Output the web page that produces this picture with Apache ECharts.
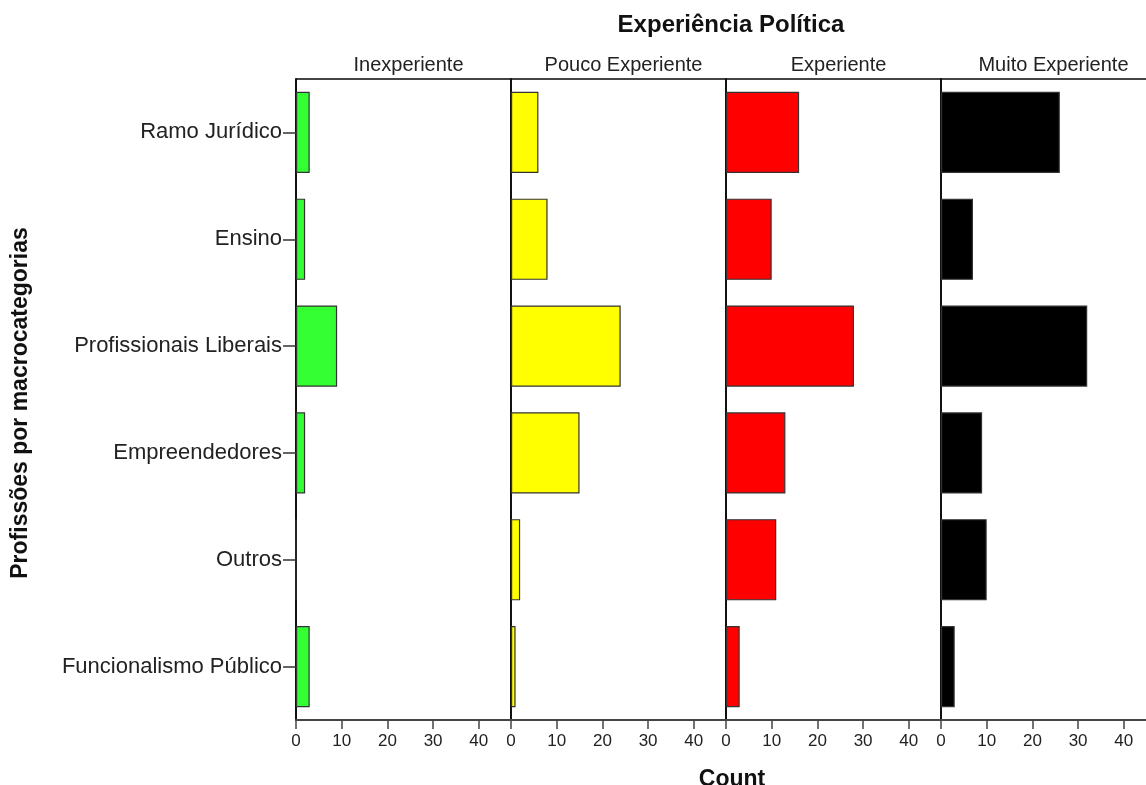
<!DOCTYPE html>
<html><head><meta charset="utf-8">
<script src="https://cdn.jsdelivr.net/npm/echarts@6/dist/echarts.min.js"></script>
<style>html,body{margin:0;padding:0;background:#fff;}#c{width:1146px;height:785px;}</style>
</head><body><div id="c"></div>
<script>
const categories = ['Ramo Jurídico','Ensino','Profissionais Liberais','Empreendedores','Outros','Funcionalismo Público'];
const panels = ['Inexperiente','Pouco Experiente','Experiente','Muito Experiente'];
const inexperiente = [3,2,9,2,0,3];
const poucoExperiente = [6,8,24,15,2,1];
const experiente = [16,10,28,13,11,3];
const muitoExperiente = [26,7,32,9,10,3];
const xTicks = [0,10,20,30,40];
const colors = ['#33ff33','#ffff00','#ff0000','#000000'];
const seriesData = [inexperiente, poucoExperiente, experiente, muitoExperiente];

const font = '"Liberation Sans", Arial, sans-serif';
const lefts = [296, 511, 726, 941];
const widths = [215, 215, 215, 205];
const PX_PER_UNIT = 4.57;
const TOP = 79, H = 641;
const grids = [], xAxes = [], yAxes = [], series = [], titles = [];
panels.forEach((p, i) => {
  grids.push({left: lefts[i], top: TOP, width: widths[i], height: H, containLabel: false});
  xAxes.push({
    type: 'value', gridIndex: i, min: 0, max: widths[i] / PX_PER_UNIT, interval: 10,
    splitLine: {show: false},
    axisLine: {show: true, lineStyle: {color: '#444', width: 2}},
    axisTick: {show: true, length: 9, lineStyle: {color: '#444', width: 1.5}},
    axisLabel: {color: '#222', fontFamily: font, fontSize: 17, margin: 13,
      showMaxLabel: false,
      formatter: v => xTicks.indexOf(v) >= 0 ? String(v) : ''}
  });
  yAxes.push({
    type: 'category', gridIndex: i, data: categories, inverse: true,
    axisLine: {show: true, lineStyle: {color: '#111', width: 2}},
    axisTick: {show: i === 0, alignWithLabel: true, length: 13, lineStyle: {color: '#333', width: 1.5}},
    axisLabel: {show: i === 0, color: '#222', fontFamily: font, fontSize: 22, margin: 14},
    splitLine: {show: false}
  });
  series.push({
    type: 'bar', xAxisIndex: i, yAxisIndex: i, data: seriesData[i],
    barCategoryGap: '24%',
    itemStyle: {color: colors[i], borderColor: '#333', borderWidth: 1.2},
    silent: true
  });
  titles.push({text: p, left: lefts[i] + 107.5, top: 50, textAlign: 'center',
    textStyle: {fontFamily: font, fontSize: 20, fontWeight: 'normal', color: '#222'}});
});
titles.push({text: 'Experiência Política', left: 726, top: 8, textAlign: 'center',
  textStyle: {fontFamily: font, fontSize: 24, fontWeight: 'bold', color: '#111'}});
titles.push({text: 'Count', left: 727, top: 763, textAlign: 'center',
  textStyle: {fontFamily: font, fontSize: 23, fontWeight: 'bold', color: '#111'}});

const chart = echarts.init(document.getElementById('c'), null, {renderer: 'canvas'});
chart.setOption({
  backgroundColor: '#fff',
  animation: false,
  title: titles,
  grid: grids, xAxis: xAxes, yAxis: yAxes, series: series,
  graphic: [
    {type: 'line', shape: {x1: 296, y1: TOP, x2: 1146, y2: TOP}, style: {stroke: '#444', lineWidth: 2}},
    {type: 'text', x: 9, y: 403, rotation: Math.PI/2,
      style: {text: 'Profissões por macrocategorias', font: 'bold 23px "Liberation Sans", Arial, sans-serif',
        fill: '#111', textAlign: 'center', textVerticalAlign: 'top'}}
  ]
});
</script></body></html>
